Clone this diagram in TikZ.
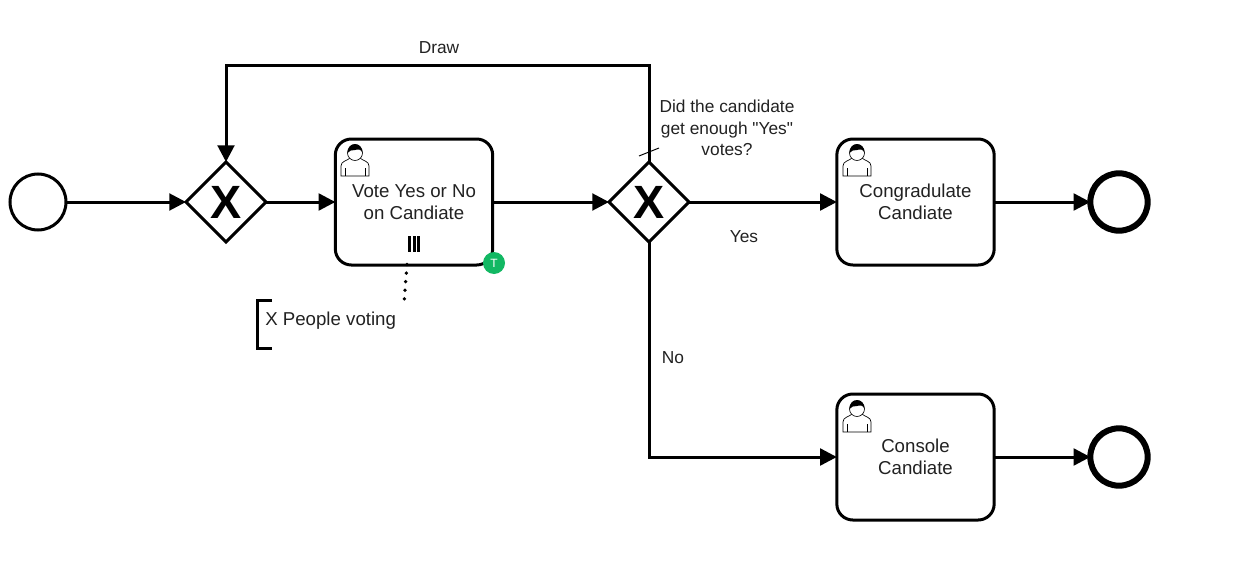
\documentclass[tikz,border=0pt]{standalone}
\usepackage{fontspec}
\setmainfont{Liberation Sans}
\newfontfamily\plainfont{Liberation Sans}
\usetikzlibrary{arrows.meta,shapes.geometric}
\definecolor{badgegreen}{HTML}{12B863}
\definecolor{textgray}{HTML}{222222}
\tikzset{
    flow/.style={line width=2.25pt, -{Triangle[length=12.5pt,width=12.5pt]}},
    task/.style={draw, line width=2.25pt, rounded corners=12pt, outer sep=0pt, minimum width=118pt, minimum height=94.5pt, inner sep=0pt, align=center, text=textgray, font=\fontsize{14}{16.5}\selectfont},
    gateway/.style={draw, diamond, line width=2.25pt, outer sep=0pt, minimum width=60pt, minimum height=60pt, inner sep=0pt, font=\fontsize{35}{35}\selectfont\bfseries},
    startevent/.style={draw, circle, line width=2.25pt, outer sep=0pt, minimum size=42pt, inner sep=0pt},
    endevent/.style={draw, circle, line width=4.5pt, outer sep=0pt, minimum size=43pt, inner sep=0pt},
    flowlabel/.style={align=center, text=textgray, font=\plainfont\fontsize{13}{16}\selectfont, inner sep=0pt},
}
\begin{document}
\begin{tikzpicture}[x=0.75pt, y=-0.75pt]
\useasboundingbox (0,0) rectangle (1239,567);
\fill[white] (0,0) rectangle (1239,567);

% events and gateways
\node[startevent] (start) at (38,202) {};
\node[gateway] (gwdraw) at (226,202) {X};
\node[gateway] (gwvotes) at (649,202) {X};
\node[endevent] (endyes) at (1119,202) {};
\node[endevent] (endno) at (1119,457) {};

% tasks
\node[task] (vote) at (414,202) {Vote Yes or No\\on Candiate};
\node[task] (congrat) at (915.5,202) {Congradulate\\Candiate};
\node[task] (console) at (915.5,457) {Console\\Candiate};

% user icons
\foreach \x/\y in {341/144, 843/144, 843/400}
{
    \begin{scope}[shift={(\x*0.75pt,-\y*0.75pt)}]
    \draw[line width=0.5pt, fill=white] (0,32) -- (0,22) .. controls (0,17) and (6,17) .. (9,14) -- (19,14) .. controls (22,17) and (28,17) .. (28,22) -- (28,32) -- cycle;
    \draw[line width=0.5pt, fill=white] (14,9) circle (7.5);
    \fill (6.5,9) .. controls (6,-3) and (22,-3) .. (21.5,9) .. controls (20,5) and (17,5) .. (14,6) .. controls (11,6.5) and (8,6) .. (6.5,9) -- cycle;
    \draw[line width=0.5pt] (4,32) -- (4,24) (24,32) -- (24,24);
    \end{scope}
}

% parallel marker and badge
\foreach \x in {409.5,414,418.5}
{
    \draw[line width=2.25pt] (\x,236) -- (\x,252);
}
\node[circle, fill=badgegreen, text=white, minimum size=16.5pt, inner sep=0pt, font=\fontsize{9}{9}\selectfont] (badge) at (494,263) {T};

% annotation
\node[anchor=west, inner sep=0pt, text=textgray, font=\fontsize{14}{16}\selectfont] (note) at (265,321) {X People voting};
\coordinate (linkstart) at (407,264.5);
\coordinate (notelink) at (404.3,300);
\draw[line width=2.25pt] (272,300) -- (257,300) -- (257,348) -- (272,348);
\draw[line width=2.8pt, line cap=round, dash pattern=on 0pt off 6.45pt] (linkstart) -- (notelink);

% flows
\draw[flow] (start) -- (gwdraw);
\draw[flow] (gwdraw) -- (vote);
\draw[flow] (vote) -- (gwvotes);
\draw[flow] (gwvotes) -- (congrat);
\draw[flow] (congrat) -- (endyes);
\draw[flow] (console) -- (endno);
\draw[flow] (gwvotes.south) |- (console.west);
\coordinate (loopleft) at (226,66);
\draw[flow] (gwvotes.north) |- (loopleft) -- (gwdraw.north);
\coordinate (ticka) at (639,156);
\coordinate (tickb) at (659,148);
\draw[line width=0.75pt] (ticka) -- (tickb);

% flow labels
\node[flowlabel] (drawlabel) at (439,48) {Draw};
\node[flowlabel] (questionlabel) at (727,128) {Did the candidate\\get enough "Yes"\\votes?};
\node[flowlabel] (yeslabel) at (744,237) {Yes};
\node[flowlabel] (nolabel) at (673,358) {No};
\end{tikzpicture}
\end{document}
